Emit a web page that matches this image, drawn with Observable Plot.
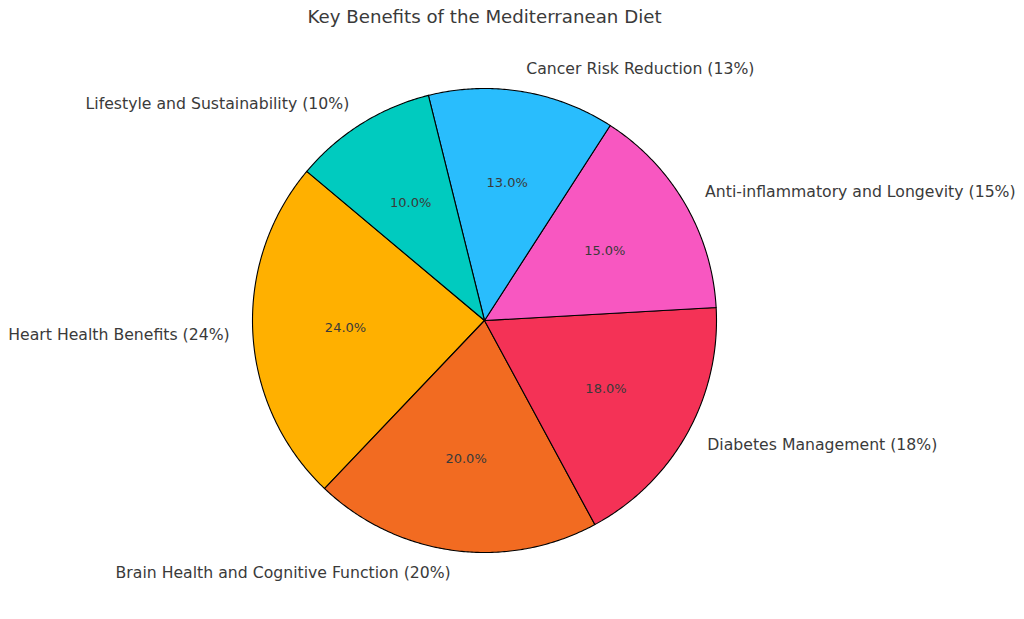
<!DOCTYPE html>
<html>
<head>
<meta charset="utf-8">
<script src="https://cdn.jsdelivr.net/npm/d3@7"></script>
<script src="https://cdn.jsdelivr.net/npm/@observablehq/plot@0.6"></script>
<style>
  html, body { margin: 0; padding: 0; background: #fff; }
  svg { font-family: "DejaVu Sans", sans-serif; }
</style>
</head>
<body>
<div id="chart"></div>
<script>
const title = "Key Benefits of the Mediterranean Diet";
const categories = [
  "Heart Health Benefits",
  "Brain Health and Cognitive Function",
  "Diabetes Management",
  "Anti-inflammatory and Longevity",
  "Cancer Risk Reduction",
  "Lifestyle and Sustainability"
];
const values = [24, 20, 18, 15, 13, 10];
const colors = ["#FFB000", "#F26B21", "#F43256", "#F857C1", "#29BDFD", "#00CBBF"];
const startAngle = 140; // degrees, counter-clockwise

const W = 1024, H = 619;
const cx = 484, cy = 320, R = 232;

const total = d3.sum(values);
let acc = startAngle;
const slices = categories.map((c, i) => {
  const a0 = acc;
  const a1 = acc + values[i] / total * 360;
  acc = a1;
  return {category: c, value: values[i], a0, a1, mid: (a0 + a1) / 2};
});

const rad = d => d * Math.PI / 180;
const poly = [];
for (const s of slices) {
  poly.push({category: s.category, x: 0, y: 0});
  const n = Math.ceil((s.a1 - s.a0) / 0.5);
  for (let k = 0; k <= n; k++) {
    const a = rad(s.a0 + (s.a1 - s.a0) * k / n);
    poly.push({category: s.category, x: Math.cos(a), y: Math.sin(a)});
  }
}
const pctLabels = slices.map(s => ({
  text: (s.value / total * 100).toFixed(1) + "%",
  x: 0.6 * Math.cos(rad(s.mid)), y: 0.6 * Math.sin(rad(s.mid))
}));
const outLabels = slices.map(s => ({
  text: `${s.category} (${Math.round(s.value / total * 100)}%)`,
  x: 1.1 * Math.cos(rad(s.mid)), y: 1.1 * Math.sin(rad(s.mid))
}));

const chart = Plot.plot({
  width: W, height: H,
  margin: 0,
  style: {fontFamily: "DejaVu Sans, sans-serif", background: "#fff"},
  x: {domain: [-cx / R, (W - cx) / R], range: [0, W], axis: null},
  y: {domain: [-(H - cy) / R, cy / R], range: [H, 0], axis: null},
  color: {domain: categories, range: colors},
  marks: [
    Plot.line(poly, {x: "x", y: "y", z: "category", fill: "category", stroke: "#000", strokeWidth: 1.1, curve: "linear-closed", strokeLinejoin: "round"}),
    Plot.text(pctLabels, {x: "x", y: "y", text: "text", fontSize: 13, fill: "#3a3a3a"}),
    Plot.text(outLabels.filter(d => d.x < 0), {x: "x", y: "y", text: "text", textAnchor: "end", fontSize: 15.7, fill: "#3a3a3a"}),
    Plot.text(outLabels.filter(d => d.x >= 0), {x: "x", y: "y", text: "text", textAnchor: "start", fontSize: 15.7, fill: "#3a3a3a"}),
    Plot.text([title], {frameAnchor: "top", dx: cx - W / 2, dy: 17, lineAnchor: "middle", text: d => d, fontSize: 18.2, fill: "#3a3a3a"})
  ]
});
document.getElementById("chart").appendChild(chart);
</script>
</body>
</html>
